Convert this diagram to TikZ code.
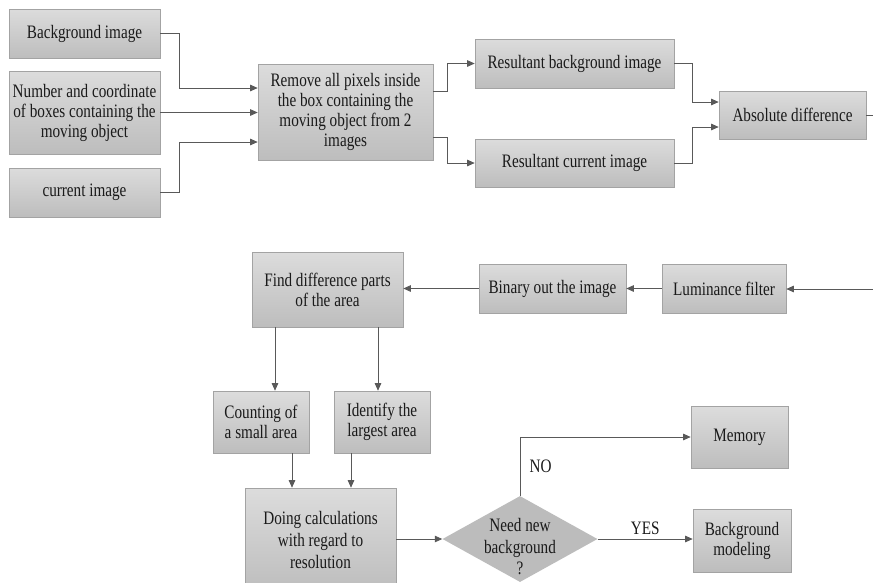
\documentclass[tikz,border=0pt]{standalone}
\usepackage{fontspec}
\setmainfont[FakeStretch=0.8]{Liberation Serif}
\usetikzlibrary{arrows.meta,shapes.geometric}
\definecolor{boxtop}{HTML}{DCDCDC}
\definecolor{boxbot}{HTML}{BDBDBD}
\definecolor{boxline}{HTML}{A3A3A3}
\definecolor{arrcol}{HTML}{595959}
\definecolor{diafill}{HTML}{BCBCBC}
\definecolor{txt}{HTML}{1A1A1A}
\begin{document}
\begin{tikzpicture}[x=1pt,y=-1pt,
 box/.style={draw=boxline, line width=0.6pt, top color=boxtop, bottom color=boxbot, text=txt, font=\fontsize{19}{20}\selectfont, align=center, inner sep=0pt},
 dia/.style={diamond, fill=diafill, draw=none, inner sep=0pt, minimum width=155pt, minimum height=86pt},
 arr/.style={draw=arrcol, line width=0.8pt, -{Triangle[length=7.5pt,width=6.5pt]}},
 lbl/.style={text=txt, font=\fontsize{19}{20}\selectfont, align=center}]
\useasboundingbox (0,0) rectangle (873,582);
% top row
\node[box, minimum width=151pt, minimum height=49pt] (bg) at (84.5,33.5) {Background image};
\node[box, minimum width=151pt, minimum height=83pt] (num) at (84.5,112.5) {Number and coordinate\\of boxes containing the\\moving object};
\node[box, minimum width=151pt, minimum height=49pt] (cur) at (84.5,192.5) {current image};
\node[box, minimum width=175pt, minimum height=96pt] (rem) at (345.5,112) {Remove all pixels inside\\the box containing the\\moving object from 2\\images};
\node[box, minimum width=199pt, minimum height=49pt] (rbg) at (574.5,63.5) {Resultant background image};
\node[box, minimum width=199pt, minimum height=48pt] (rcur) at (574.5,163) {Resultant current image};
\node[box, minimum width=147pt, minimum height=48pt] (abs) at (792.5,115) {Absolute difference};
% middle row
\node[box, minimum width=151pt, minimum height=75pt] (find) at (327.5,289.5) {Find difference parts\\of the area};
\node[box, minimum width=147pt, minimum height=49pt] (bin) at (552.5,288.5) {Binary out the image};
\node[box, minimum width=124pt, minimum height=49pt] (lum) at (724,288.5) {Luminance filter};
% lower part
\node[box, minimum width=96pt, minimum height=62pt] (cnt) at (261,422) {Counting of\\a small area};
\node[box, minimum width=96pt, minimum height=62pt] (idf) at (382,422) {Identify the\\largest area};
\node[box, minimum width=151pt, minimum height=104pt, font=\fontsize{19}{22}\selectfont] (doing) at (320.5,540) {Doing calculations\\with regard to\\resolution};
\node[dia] (dec) at (520,539) {};
\node[lbl, font=\fontsize{19}{21.5}\selectfont] (dect) at (520,547) {Need new\\background\\?};
\node[box, minimum width=97pt, minimum height=62pt] (mem) at (739.5,437) {Memory};
\node[box, minimum width=98pt, minimum height=63pt] (bgm) at (742,540.5) {Background\\modeling};
% off-page return path
\coordinate (r1) at (890,115);
\coordinate (r2) at (890,289);
% connectors top
\draw[arr] (bg.east) -- ++(19,0) |- ([yshift=24pt]rem.west);
\draw[arr] (num.east) -- (num.east -| rem.west);
\draw[arr] (cur.east) -- ++(19,0) |- ([yshift=-30pt]rem.west);
\draw[arr] ([yshift=21pt]rem.east) -- ++(14,0) |- (rbg.west);
\draw[arr] ([yshift=-25pt]rem.east) -- ++(14,0) |- (rcur.west);
\draw[arr] (rbg.east) -- ++(18,0) |- ([yshift=13pt]abs.west);
\draw[arr] (rcur.east) -- ++(18,0) |- ([yshift=-12pt]abs.west);
\draw[arr] (abs.east) -- (r1) -- (r2) -- (r2 -| lum.east);
% middle
\draw[arr] (lum.west) -- (bin.east);
\draw[arr] (bin.west) -- (find.east |- bin.west);
% down
\coordinate (c1) at ([xshift=14pt]cnt.north);
\coordinate (c2) at ([xshift=-4pt]idf.north);
\draw[arr] (c1 |- find.south) -- (c1);
\draw[arr] (c2 |- find.south) -- (c2);
\coordinate (c3) at ([xshift=31pt]cnt.south);
\coordinate (c4) at ([xshift=-31pt]idf.south);
\draw[arr] (c3) -- (c3 |- doing.north);
\draw[arr] (c4) -- (c4 |- doing.north);
\draw[arr] (doing.east |- dec.west) -- (dec.west);
\draw[arr] (dec.north) |- node[lbl, pos=0.25, right=6pt] {NO} (mem.west);
\draw[arr] (dec.east) -- node[lbl, above=1pt] {YES} (dec.east -| bgm.west);
\end{tikzpicture}
\end{document}
